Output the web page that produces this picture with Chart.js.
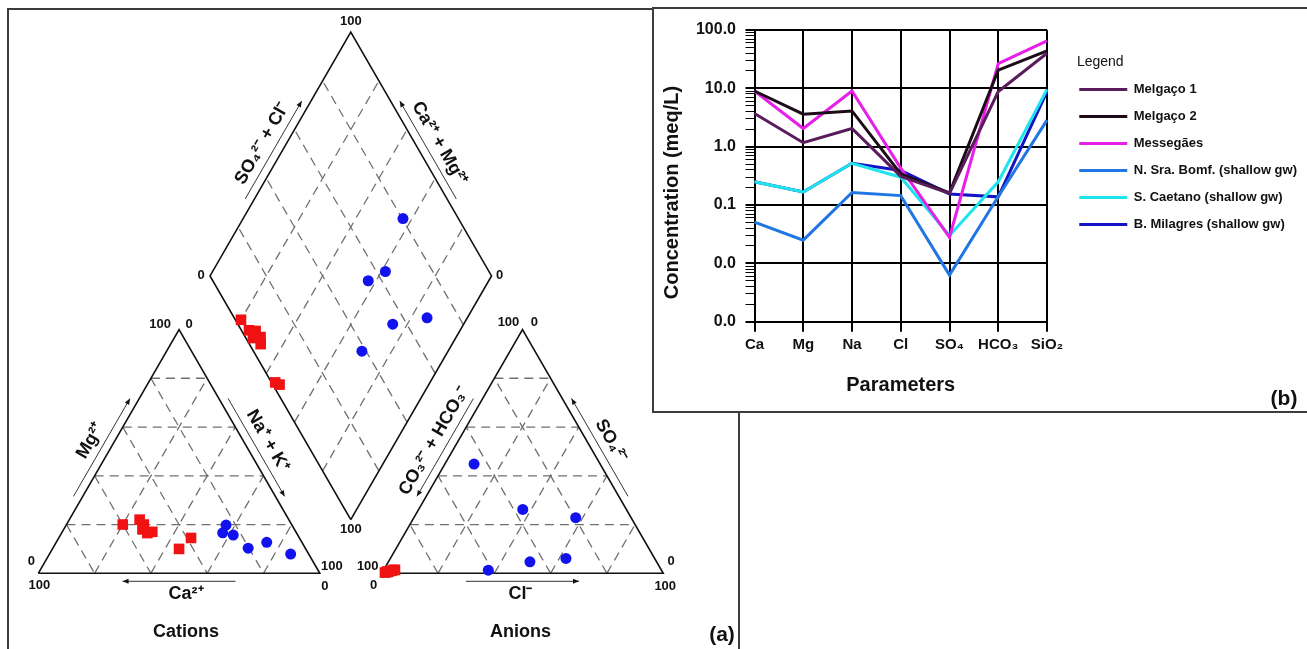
<!DOCTYPE html>
<html>
<head>
<meta charset="utf-8">
<script src="https://cdn.jsdelivr.net/npm/chart.js@4.4.1/dist/chart.umd.min.js"></script>
<style>
  html, body { margin: 0; padding: 0; background: #fff; width: 1307px; height: 649px; overflow: hidden; position: relative; }
  #panelA { position: absolute; left: 7px; top: 8px; width: 729px; height: 700px; border: 2px solid #3c3c3c; }
  #panelB { position: absolute; left: 652px; top: 7px; width: 700px; height: 402px; border: 2px solid #3c3c3c; background: #fff; }
  #piper { position: absolute; left: 0; top: 0; }
  #schoeller { position: absolute; left: 653px; top: 9px; }
</style>
</head>
<body>
<div id="panelA"></div>
<canvas id="piper" width="740" height="649"></canvas>
<div id="panelB"></div>
<canvas id="schoeller" width="654" height="402"></canvas>
<script>
const FONT = '"Liberation Sans", Arial, sans-serif';
Chart.defaults.font.family = FONT;
Chart.defaults.color = '#111';

// ---------- (b) Schoeller diagram, meq/L ----------
const PARAMETERS = ['Ca', 'Mg', 'Na', 'Cl', 'SO₄', 'HCO₃', 'SiO₂'];
const MELGACO_1  = [3.7, 1.17, 2.05, 0.31, 0.158, 8.8, 40];
const MELGACO_2  = [9.0, 3.6, 4.1, 0.34, 0.162, 20.5, 44];
const MESSEGAES  = [9.0, 2.05, 9.0, 0.43, 0.028, 26.5, 65];
const N_SRA_BOMF = [0.051, 0.025, 0.164, 0.145, 0.0063, 0.14, 2.85];
const S_CAETANO  = [0.25, 0.167, 0.52, 0.30, 0.030, 0.25, 9.6];
const B_MILAGRES = [0.25, 0.167, 0.52, 0.39, 0.155, 0.138, 8.8];
const Y_DECADES = [0.001, 0.01, 0.1, 1, 10, 100];
const Y_TICK_LABELS = ['0.0', '0.0', '0.1', '1.0', '10.0', '100.0'];

// ---------- (a) Piper diagram, % meq ----------
const THERMAL_CA   = [60, 53, 52.5, 54, 53, 51, 38.5, 45];
const THERMAL_MG   = [20, 22, 20, 18, 16.5, 17, 14.5, 10];
const THERMAL_NAK  = [20, 25, 27.5, 28, 30.5, 32, 47, 45];
const THERMAL_HCO3 = [98, 97.3, 95.1, 97.5, 94.6, 96, 97.6, 98.7];
const THERMAL_CL   = [1.5, 2, 3.5, 1.8, 4, 3, 1.8, 1];
const THERMAL_SO4  = [0.5, 0.7, 1.4, 0.7, 1.4, 1, 0.6, 0.3];
const SHALLOW_CA   = [23.4, 22.9, 26.2, 6.4, 12.5, 20.3];
const SHALLOW_MG   = [19.8, 15.7, 16.6, 7.9, 12.7, 10.3];
const SHALLOW_NAK  = [56.8, 61.4, 57.2, 85.7, 74.8, 69.4];
const SHALLOW_HCO3 = [19.7, 36.8, 44.8, 31.5, 45.0, 61.5];
const SHALLOW_CL   = [57.5, 37.0, 10.4, 62.4, 50.3, 37.2];
const SHALLOW_SO4  = [22.8, 26.2, 44.8, 6.1, 4.7, 1.3];
const GRID_STEPS = [20, 40, 60, 80];

// piper geometry (plot units = one triangle side)
const GAP = 0.22;
const H = Math.sqrt(3) / 2;
const UNIT_PX = 281.5;
const ORIGIN_PX = { x: 38.3, y: 573.3 };

function cationXY(ca, mg, na) {
    const t = ca + mg + na;
    return { x: (na + mg / 2) / t, y: mg * H / t };
}
function anionXY(hco3, cl, so4) {
    const t = hco3 + cl + so4;
    return { x: 1 + GAP + (cl + so4 / 2) / t, y: so4 * H / t };
}
// caMg and so4Cl in percent
function diamondXY(caMg, so4Cl) {
    return { x: 1 + GAP / 2 + (so4Cl - caMg) / 200, y: GAP * H + (caMg + so4Cl) * H / 100 };
}

function piperPoints(ca, mg, nak, hco3, cl, so4) {
    const pts = [];
    ca.forEach((_, i) => {
        pts.push(cationXY(ca[i], mg[i], nak[i]));
        pts.push(anionXY(hco3[i], cl[i], so4[i]));
        const c = ca[i] + mg[i] + nak[i];
        const a = hco3[i] + cl[i] + so4[i];
        pts.push(diamondXY(100 * (ca[i] + mg[i]) / c, 100 * (cl[i] + so4[i]) / a));
    });
    return pts;
}

// dashed grid segments
const gridSegments = [];
GRID_STEPS.forEach(k => {
    gridSegments.push([cationXY(100 - k, k, 0), cationXY(0, k, 100 - k)]);
    gridSegments.push([cationXY(100 - k, 0, k), cationXY(0, 100 - k, k)]);
    gridSegments.push([cationXY(k, 100 - k, 0), cationXY(k, 0, 100 - k)]);
    gridSegments.push([anionXY(100 - k, 0, k), anionXY(0, 100 - k, k)]);
    gridSegments.push([anionXY(100 - k, k, 0), anionXY(0, k, 100 - k)]);
    gridSegments.push([anionXY(k, 100 - k, 0), anionXY(k, 0, 100 - k)]);
    gridSegments.push([diamondXY(k, 0), diamondXY(k, 100)]);
    gridSegments.push([diamondXY(0, k), diamondXY(100, k)]);
});

const outlines = [
    [cationXY(100, 0, 0), cationXY(0, 0, 100), cationXY(0, 100, 0), cationXY(100, 0, 0)],
    [anionXY(100, 0, 0), anionXY(0, 100, 0), anionXY(0, 0, 100), anionXY(100, 0, 0)],
    [diamondXY(0, 0), diamondXY(0, 100), diamondXY(100, 100), diamondXY(100, 0), diamondXY(0, 0)]
];

const CATION_C = cationXY(1, 1, 1);
const ANION_C = anionXY(1, 1, 1);
const DIAMOND_C = diamondXY(50, 50);

const CORNERS = [
    { at: cationXY(0, 100, 0), text: '100', dx: -19, dy: -5 },
    { at: cationXY(0, 100, 0), text: '0', dx: 10, dy: -5 },
    { at: cationXY(100, 0, 0), text: '0', dx: -7, dy: -12 },
    { at: cationXY(100, 0, 0), text: '100', dx: 1, dy: 12 },
    { at: cationXY(0, 0, 100), text: '100', dx: 12, dy: -7 },
    { at: cationXY(0, 0, 100), text: '0', dx: 5, dy: 13 },
    { at: anionXY(0, 0, 100), text: '100', dx: -14, dy: -7 },
    { at: anionXY(0, 0, 100), text: '0', dx: 12, dy: -7 },
    { at: anionXY(100, 0, 0), text: '100', dx: -14, dy: -7 },
    { at: anionXY(100, 0, 0), text: '0', dx: -8, dy: 12 },
    { at: anionXY(0, 100, 0), text: '0', dx: 8, dy: -12 },
    { at: anionXY(0, 100, 0), text: '100', dx: 2, dy: 13 },
    { at: diamondXY(100, 100), text: '100', dx: 0, dy: -11 },
    { at: diamondXY(100, 0), text: '0', dx: -9, dy: 0 },
    { at: diamondXY(0, 100), text: '0', dx: 8, dy: 0 },
    { at: diamondXY(0, 0), text: '100', dx: 0, dy: 10 }
];

const SIDES = [
    { from: cationXY(100, 0, 0), to: cationXY(0, 100, 0), centre: CATION_C, text: 'Mg²⁺', arrowTo: 'to' },
    { from: cationXY(0, 0, 100), to: cationXY(0, 100, 0), centre: CATION_C, text: 'Na⁺ + K⁺', arrowTo: 'from' },
    { from: cationXY(100, 0, 0), to: cationXY(0, 0, 100), centre: CATION_C, text: 'Ca²⁺', arrowTo: 'from', shift: 7, title: 'Cations' },
    { from: anionXY(100, 0, 0), to: anionXY(0, 0, 100), centre: ANION_C, text: 'CO₃²⁻ + HCO₃⁻', arrowTo: 'from' },
    { from: anionXY(0, 100, 0), to: anionXY(0, 0, 100), centre: ANION_C, text: 'SO₄²⁻', arrowTo: 'to' },
    { from: anionXY(100, 0, 0), to: anionXY(0, 100, 0), centre: ANION_C, text: 'Cl⁻', arrowTo: 'to', shift: -2, title: 'Anions' },
    { from: diamondXY(100, 0), to: diamondXY(100, 100), centre: DIAMOND_C, text: 'SO₄²⁻ + Cl⁻', arrowTo: 'to' },
    { from: diamondXY(0, 100), to: diamondXY(100, 100), centre: DIAMOND_C, text: 'Ca²⁺ + Mg²⁺', arrowTo: 'to' }
];

const ARROW_LEN = 113;
const ARROW_OFF = 8;
const TEXT_OFF = 21;

function drawArrow(ctx, p0, p1) {
    const ang = Math.atan2(p1.y - p0.y, p1.x - p0.x);
    ctx.beginPath();
    ctx.moveTo(p0.x, p0.y);
    ctx.lineTo(p1.x, p1.y);
    ctx.stroke();
    ctx.beginPath();
    ctx.moveTo(p1.x, p1.y);
    ctx.lineTo(p1.x - 6 * Math.cos(ang) + 2.5 * Math.sin(ang), p1.y - 6 * Math.sin(ang) - 2.5 * Math.cos(ang));
    ctx.lineTo(p1.x - 6 * Math.cos(ang) - 2.5 * Math.sin(ang), p1.y - 6 * Math.sin(ang) + 2.5 * Math.cos(ang));
    ctx.closePath();
    ctx.fill();
}

const piperLabels = {
    id: 'piperLabels',
    afterDraw(chart) {
        const { ctx, scales: { x, y } } = chart;
        const toPx = p => ({ x: x.getPixelForValue(p.x), y: y.getPixelForValue(p.y) });
        ctx.save();
        ctx.fillStyle = '#111';
        ctx.strokeStyle = '#333';
        ctx.lineWidth = 1;
        ctx.textAlign = 'center';
        ctx.textBaseline = 'middle';

        ctx.font = 'bold 13px ' + FONT;
        CORNERS.forEach(c => {
            const p = toPx(c.at);
            ctx.fillText(c.text, p.x + c.dx, p.y + c.dy);
        });

        SIDES.forEach(s => {
            const a = toPx(s.from), b = toPx(s.to), c = toPx(s.centre);
            const len = Math.hypot(b.x - a.x, b.y - a.y);
            const d = { x: (b.x - a.x) / len, y: (b.y - a.y) / len };
            const m = { x: (a.x + b.x) / 2, y: (a.y + b.y) / 2 };
            let n = { x: d.y, y: -d.x };
            if ((m.x - c.x) * n.x + (m.y - c.y) * n.y < 0) n = { x: -n.x, y: -n.y };
            const dir = s.arrowTo === 'to' ? 1 : -1;
            const p0 = { x: m.x - d.x * dir * ARROW_LEN / 2 + n.x * ARROW_OFF, y: m.y - d.y * dir * ARROW_LEN / 2 + n.y * ARROW_OFF };
            const p1 = { x: m.x + d.x * dir * ARROW_LEN / 2 + n.x * ARROW_OFF, y: m.y + d.y * dir * ARROW_LEN / 2 + n.y * ARROW_OFF };
            drawArrow(ctx, p0, p1);

            let ang = Math.atan2(d.y, d.x);
            if (ang > Math.PI / 2) ang -= Math.PI;
            if (ang < -Math.PI / 2) ang += Math.PI;
            const sx = s.shift || 0;
            ctx.save();
            ctx.translate(m.x + n.x * TEXT_OFF + sx, m.y + n.y * TEXT_OFF);
            ctx.rotate(ang);
            ctx.font = 'bold 18px ' + FONT;
            ctx.fillText(s.text, 0, 0);
            ctx.restore();
            if (s.title) {
                ctx.font = 'bold 18px ' + FONT;
                ctx.fillText(s.title, m.x + sx, m.y + 59);
            }
        });

        ctx.font = 'bold 21px ' + FONT;
        ctx.fillText('(a)', chart.width - 18, chart.height - 14);
        ctx.restore();
    }
};

const piperDatasets = [
    {
        data: piperPoints(THERMAL_CA, THERMAL_MG, THERMAL_NAK, THERMAL_HCO3, THERMAL_CL, THERMAL_SO4),
        pointStyle: 'rect', pointRadius: 7.5, backgroundColor: '#f01212', borderWidth: 0, showLine: false
    },
    {
        data: piperPoints(SHALLOW_CA, SHALLOW_MG, SHALLOW_NAK, SHALLOW_HCO3, SHALLOW_CL, SHALLOW_SO4),
        pointStyle: 'circle', pointRadius: 5.5, backgroundColor: '#1212ee', borderWidth: 0, showLine: false
    }
];
outlines.forEach(o => piperDatasets.push({
    data: o, showLine: true, pointRadius: 0, borderColor: '#111', borderWidth: 1.6, fill: false
}));
gridSegments.forEach(sg => piperDatasets.push({
    data: sg, showLine: true, pointRadius: 0, borderColor: '#707070', borderWidth: 1.3, borderDash: [9, 6], fill: false
}));

const PIPER_W = 740, PIPER_H = 649;
new Chart(document.getElementById('piper'), {
    type: 'scatter',
    data: { datasets: piperDatasets },
    options: {
        responsive: false,
        animation: false,
        devicePixelRatio: 1,
        layout: { padding: 0, autoPadding: false },
        plugins: { legend: { display: false }, tooltip: { enabled: false } },
        scales: {
            x: { type: 'linear', display: false, min: -ORIGIN_PX.x / UNIT_PX, max: (PIPER_W - ORIGIN_PX.x) / UNIT_PX },
            y: { type: 'linear', display: false, min: -(PIPER_H - ORIGIN_PX.y) / UNIT_PX, max: ORIGIN_PX.y / UNIT_PX }
        }
    },
    plugins: [piperLabels]
});

// ---------- Schoeller chart ----------
const SERIES = [
    { label: 'Melgaço 1', data: MELGACO_1, color: '#5a1d5c' },
    { label: 'Melgaço 2', data: MELGACO_2, color: '#1c0c18' },
    { label: 'Messegães', data: MESSEGAES, color: '#e620e6' },
    { label: 'N. Sra. Bomf. (shallow gw)', data: N_SRA_BOMF, color: '#1f76e4' },
    { label: 'S. Caetano (shallow gw)', data: S_CAETANO, color: '#1ee4ee' },
    { label: 'B. Milagres (shallow gw)', data: B_MILAGRES, color: '#1414c4' }
];

const PLOT_LEFT = 101.5;
const PLOT_RIGHT = 394;
const PLOT_TOP = 21;
const PLOT_BOTTOM = 312.7;

function isDecade(v) {
    return Y_DECADES.findIndex(d => Math.abs(d - v) / d < 1e-6);
}

const panelLabelB = {
    id: 'panelLabelB',
    afterDraw(chart) {
        const ctx = chart.ctx;
        ctx.save();
        ctx.fillStyle = '#111';
        ctx.font = 'bold 21px ' + FONT;
        ctx.textAlign = 'center';
        ctx.textBaseline = 'middle';
        ctx.fillText('(b)', chart.width - 23, chart.height - 12);
        ctx.restore();
    }
};

new Chart(document.getElementById('schoeller'), {
    type: 'line',
    data: {
        labels: PARAMETERS,
        datasets: SERIES.map(s => ({
            label: s.label,
            data: s.data,
            borderColor: s.color,
            backgroundColor: s.color,
            borderWidth: 3,
            pointRadius: 0,
            tension: 0
        }))
    },
    options: {
        responsive: false,
        animation: false,
        devicePixelRatio: 1,
        layout: { padding: { top: PLOT_TOP, left: 0, right: 0, bottom: 0 } },
        plugins: {
            tooltip: { enabled: false },
            legend: {
                position: 'right',
                align: 'start',
                maxWidth: 300,
                labels: {
                    usePointStyle: true,
                    pointStyle: 'line',
                    pointStyleWidth: 48,
                    padding: 14,
                    color: '#111',
                    font: { size: 13, weight: 'bold' }
                },
                title: {
                    display: true,
                    text: '   Legend',
                    position: 'start',
                    color: '#111',
                    font: { size: 14, lineHeight: 1 },
                    padding: { top: 25, bottom: 0 }
                }
            }
        },
        scales: {
            x: {
                grid: { color: '#000', lineWidth: 2, tickLength: 10, tickColor: '#000' },
                border: { color: '#000', width: 2 },
                ticks: { color: '#111', font: { size: 15, weight: 'bold' }, padding: 4, maxRotation: 0, autoSkip: false },
                title: { display: true, text: 'Parameters', color: '#111', font: { size: 20, weight: 'bold' }, padding: { top: 0, bottom: 14 } },
                afterFit: s => { s.height = s.chart.height - PLOT_BOTTOM; }
            },
            y: {
                type: 'logarithmic',
                min: 0.001,
                max: 100,
                afterBuildTicks: s => {
                    const ticks = [];
                    Y_DECADES.forEach((d, i) => {
                        ticks.push({ value: d });
                        if (i < Y_DECADES.length - 1) {
                            for (let k = 2; k <= 9; k++) ticks.push({ value: d * k });
                        }
                    });
                    s.ticks = ticks;
                },
                grid: {
                    color: c => isDecade(c.tick ? c.tick.value : 0) >= 0 ? '#000' : 'rgba(0,0,0,0)',
                    lineWidth: c => isDecade(c.tick ? c.tick.value : 0) >= 0 ? 2 : 1,
                    tickColor: '#000',
                    tickWidth: c => isDecade(c.tick ? c.tick.value : 0) >= 0 ? 2 : 1,
                    tickLength: 9
                },
                border: { color: '#000', width: 2 },
                ticks: {
                    autoSkip: false,
                    padding: 9.5,
                    color: '#111',
                    font: { size: 16, weight: 'bold' },
                    callback: v => {
                        const i = isDecade(v);
                        return i >= 0 ? Y_TICK_LABELS[i] : '';
                    }
                },
                title: { display: true, text: 'Concentration (meq/L)      ', color: '#111', font: { size: 20, weight: 'bold' }, padding: { top: 7, bottom: 0 } },
                afterFit: s => { s.width = PLOT_LEFT; }
            },
            y2: {
                type: 'linear',
                position: 'right',
                display: true,
                grid: { display: false, drawOnChartArea: false },
                border: { display: false },
                ticks: { display: false },
                afterFit: s => {
                    const lw = s.chart.legend ? (s.chart.legend.width || 0) : 0;
                    s.width = Math.max(0, s.chart.width - lw - PLOT_RIGHT);
                }
            }
        }
    },
    plugins: [panelLabelB]
});
</script>
</body>
</html>
